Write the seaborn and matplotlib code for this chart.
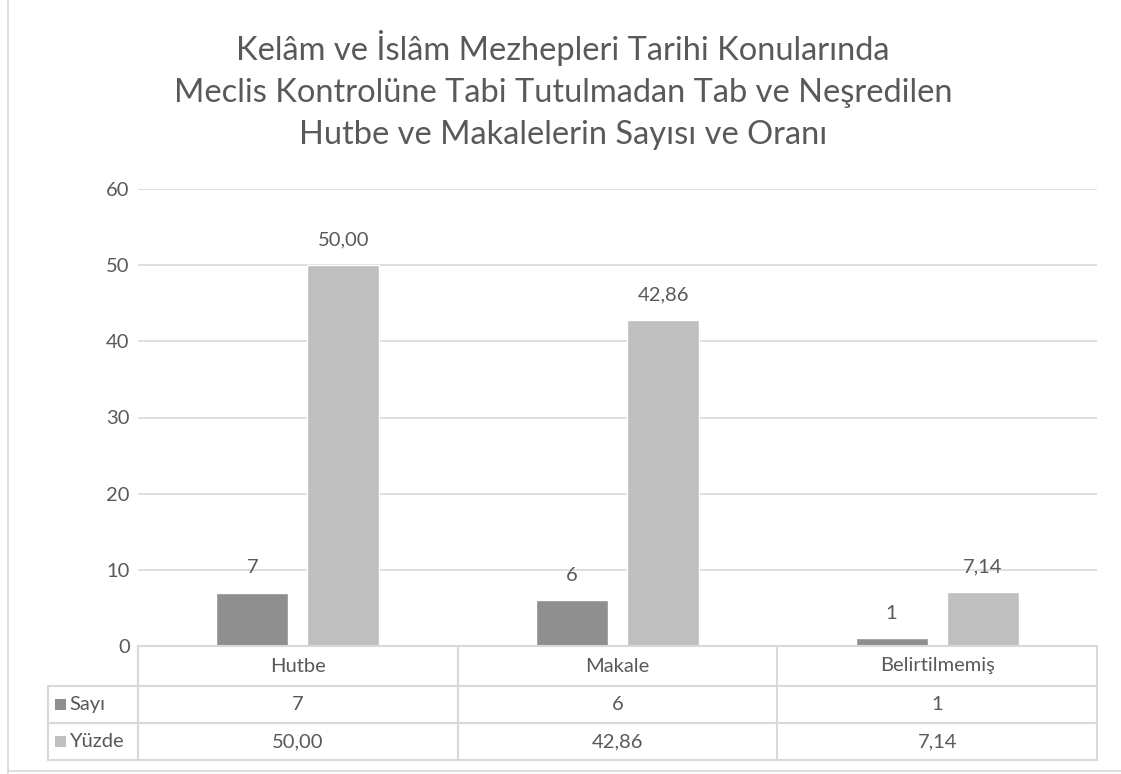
import numpy as np
import pandas as pd
import seaborn as sns
from matplotlib import pyplot as plt
from matplotlib.patches import Rectangle
from matplotlib.lines import Line2D

categories = ['Hutbe', 'Makale', 'Belirtilmemiş']
series = ['Sayı', 'Yüzde']
sayi = [7, 6, 1]
yuzde = [50.00, 42.86, 7.14]
sayi_labels = ['7', '6', '1']
yuzde_labels = ['50,00', '42,86', '7,14']
yticks = [0, 10, 20, 30, 40, 50, 60]
title = ('Kelâm ve İslâm Mezhepleri Tarihi Konularında\n'
         'Meclis Kontrolüne Tabi Tutulmadan Tab ve Neşredilen\n'
         'Hutbe ve Makalelerin Sayısı ve Oranı')

colors = {'Sayı': '#8f8f8f', 'Yüzde': '#bfbfbf'}
text_c = '#595959'
grid_c = '#d9d9d9'
fs = 14.5

sns.set_style('white')
plt.rcParams['font.family'] = ['Lato', 'DejaVu Sans']

df = pd.DataFrame({
    'category': categories * 2,
    'series': ['Sayı'] * 3 + ['Yüzde'] * 3,
    'value': sayi + yuzde,
})

W, H = 1121, 774
fig = plt.figure(figsize=(W / 100, H / 100), dpi=100)
# plot area in pixels
x0, x1, y0, y1 = 138, 1097, 189, 646
ax = fig.add_axes([x0 / W, 1 - y1 / H, (x1 - x0) / W, (y1 - y0) / H])

sns.barplot(data=df, x='category', y='value', hue='series', order=categories, hue_order=series,
            palette=colors, width=0.57, gap=0.21, legend=False, ax=ax, saturation=1)

ax.set_ylim(0, 60)
ax.set_xlim(-0.5, 2.5)
ax.set_yticks(yticks)
ax.set_yticklabels([str(t) for t in yticks], color=text_c, fontsize=fs)
ax.tick_params(axis='y', length=0, pad=6)
ax.set_xticks([])
ax.set_xlabel('')
ax.set_ylabel('')
ax.yaxis.grid(True, color=grid_c, linewidth=1.2)
ax.set_axisbelow(True)
for s in ax.spines.values():
    s.set_visible(False)

# data labels
labels = sayi_labels + yuzde_labels
for p, lab in zip(ax.patches, labels):
    ax.annotate(lab, (p.get_x() + p.get_width() / 2, p.get_height()), xytext=(0, 18),
                textcoords='offset points', ha='center', va='center', fontsize=fs, color=text_c)

# data table below the axes
ph = y1 - y0
pw = x1 - x0
def ay(py):
    return (y1 - py) / ph
def axx(px):
    return (px - x0) / pw

rows_y = [646, 686, 723, 760]
left_x = 48
col_x = [axx(x0 + i * pw / 3) for i in range(4)]
lkw = dict(color=grid_c, linewidth=1.5, transform=ax.transAxes, clip_on=False)
for i, yy in enumerate(rows_y):
    xs = axx(left_x) if i > 0 else 0
    ax.add_line(Line2D([xs, 1], [ay(yy), ay(yy)], **lkw))
for cx in col_x:
    ax.add_line(Line2D([cx, cx], [ay(rows_y[0]), ay(rows_y[-1])], **lkw))
ax.add_line(Line2D([axx(left_x), axx(left_x)], [ay(rows_y[1]), ay(rows_y[-1])], **lkw))

for j, cat in enumerate(categories):
    cxm = (col_x[j] + col_x[j + 1]) / 2
    ax.text(cxm, ay((rows_y[0] + rows_y[1]) / 2), cat, transform=ax.transAxes,
            ha='center', va='center', fontsize=fs, color=text_c)
    ax.text(cxm, ay((rows_y[1] + rows_y[2]) / 2), sayi_labels[j], transform=ax.transAxes,
            ha='center', va='center', fontsize=fs, color=text_c)
    ax.text(cxm, ay((rows_y[2] + rows_y[3]) / 2), yuzde_labels[j], transform=ax.transAxes,
            ha='center', va='center', fontsize=fs, color=text_c)

for k, name in enumerate(series):
    ym = ay((rows_y[k + 1] + rows_y[k + 2]) / 2)
    sq = 11 / ph
    ax.add_patch(Rectangle((axx(55), ym - sq / 2), 11 / pw, sq, transform=ax.transAxes,
                           facecolor=colors[name], edgecolor='none', clip_on=False))
    ax.text(axx(69), ym, name, transform=ax.transAxes, ha='left', va='center',
            fontsize=fs, color=text_c)

# chart frame (left and bottom)
fig.add_artist(Line2D([8 / W, 8 / W], [0, 1], color=grid_c, linewidth=1.2))
fig.add_artist(Line2D([8 / W, 1], [1 - 771 / H, 1 - 771 / H], color=grid_c, linewidth=1.2))

fig.text(563 / W, 1 - 90 / H, title, ha='center', va='center', fontsize=23.5,
         color=text_c, linespacing=1.5)

fig.savefig('out.png', dpi=100, facecolor='white')
